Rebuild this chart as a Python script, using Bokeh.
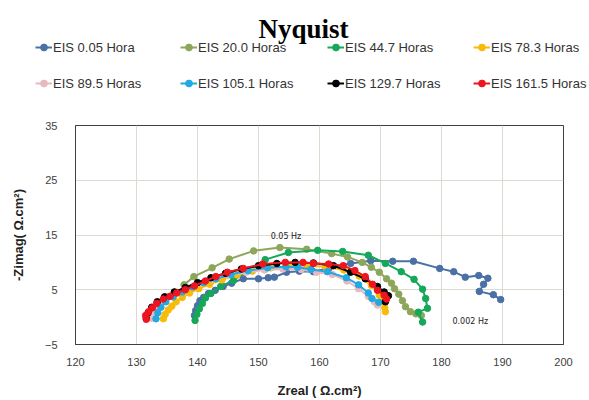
from bokeh.plotting import figure
from bokeh.models import (Legend, LegendItem, Label, FixedTicker, Range1d)
from bokeh.layouts import column
from bokeh.embed import file_html
from bokeh.resources import INLINE

# ---------------- data ----------------
names = ["EIS 0.05 Hora", "EIS 20.0 Horas", "EIS 44.7 Horas", "EIS 78.3 Horas",
         "EIS 89.5 Horas", "EIS 105.1 Horas", "EIS 129.7 Horas", "EIS 161.5 Horas"]
colors = ["#4A70A6", "#8DA65A", "#16A85A", "#F8BB0A",
          "#E9B8C0", "#22A9E1", "#000000", "#EE1520"]

x_0 = [139.5, 139.7, 140.0, 140.4, 141.0, 141.8, 142.9, 144.2, 145.6, 147.5, 150.0, 151.6,
       152.6, 154.6, 156.7, 159.0, 161.6, 165.1, 168.4, 172.0, 175.4, 179.7, 182.0, 183.9,
       186.1, 187.6, 186.9, 186.2, 188.5, 189.7]
y_0 = [0.3, 1.2, 2.1, 3.0, 3.6, 4.3, 4.9, 5.6, 6.2, 7.0, 7.0, 7.2,
       7.3, 8.2, 8.4, 8.3, 9.0, 9.8, 10.3, 10.2, 10.2, 8.9, 8.3, 7.3,
       7.6, 7.1, 6.0, 4.7, 4.1, 3.2]

x_20 = [137.8, 139.4, 142.4, 145.2, 149.2, 153.5, 157.9, 162.0, 164.6, 167.0, 168.5, 169.8,
        171.0, 171.8, 172.3, 173.0, 173.6, 174.1, 174.9, 175.8, 176.7]
y_20 = [5.9, 7.4, 9.0, 10.6, 12.1, 12.7, 12.4, 11.6, 11.0, 10.0, 9.1, 8.2,
        7.0, 6.2, 5.2, 4.2, 3.0, 1.9, 1.0, 0.6, 0.3]

x_44 = [139.6, 139.9, 140.3, 140.8, 141.3, 142.2, 143.8, 145.9, 148.2, 151.1, 154.9, 159.7,
        163.8, 168.0, 170.8, 173.4, 175.5, 176.9, 177.4, 177.7, 176.2, 176.9]
y_44 = [-0.6, 0.5, 1.5, 2.5, 3.5, 4.3, 5.6, 6.7, 8.4, 10.5, 11.8, 12.2,
        12.0, 11.3, 9.8, 8.3, 6.9, 5.1, 3.4, 1.6, 0.9, -0.9]

x_78 = [134.4, 134.7, 135.2, 135.8, 136.5, 137.5, 138.7, 140.2, 142.0, 144.0, 146.5, 149.0,
        152.0, 155.0, 158.0, 161.0, 164.0, 166.5, 168.5, 169.8, 170.3, 170.7, 170.8]
y_78 = [-0.3, 0.5, 1.3, 2.0, 2.8, 3.6, 4.4, 5.2, 6.0, 6.8, 7.7, 8.4,
        9.0, 9.3, 9.4, 9.2, 8.6, 7.5, 5.8, 4.0, 2.8, 1.7, 1.0]

x_89 = [132.5, 132.8, 133.3, 134.0, 135.0, 136.5, 138.3, 140.3, 142.5, 145.0, 148.0, 151.0,
        154.0, 157.0, 159.5, 162.1, 164.5, 166.4, 168.0, 169.0, 169.5]
y_89 = [-0.2, 0.8, 1.8, 2.8, 3.7, 4.6, 5.4, 6.2, 6.9, 7.6, 8.2, 8.6,
        8.8, 8.7, 8.2, 7.8, 6.6, 5.2, 3.8, 2.8, 2.2]

x_105 = [133.2, 133.5, 134.0, 134.8, 136.0, 137.5, 139.2, 141.0, 143.0, 145.5, 148.3, 151.5,
         154.5, 156.4, 158.6, 161.3, 164.4, 166.4, 168.0, 168.6, 169.7]
y_105 = [-0.3, 0.8, 1.8, 2.8, 3.7, 4.6, 5.5, 6.3, 7.0, 7.8, 8.5, 9.0,
         9.2, 9.1, 8.7, 8.3, 7.2, 5.9, 4.4, 3.4, 2.7]

x_129 = [131.6, 131.9, 132.5, 133.4, 134.6, 136.2, 138.0, 140.0, 142.2, 144.6, 147.2, 150.0,
         153.0, 156.0, 159.0, 162.3, 165.1, 167.5, 169.5, 170.6, 171.3, 170.8]
y_129 = [-0.2, 0.8, 1.8, 2.8, 3.7, 4.6, 5.4, 6.3, 7.2, 8.0, 8.8, 9.4,
         9.8, 10.0, 9.9, 9.4, 8.2, 7.0, 5.6, 4.6, 3.9, 2.8]

x_161 = [131.6, 131.5, 132.0, 132.6, 133.3, 134.4, 135.5, 136.6, 138.0, 139.5, 141.3, 143.0,
         144.9, 147.5, 150.7, 154.4, 157.3, 159.0, 161.5, 163.9, 165.8, 167.5, 168.7, 169.5,
         170.6, 171.0]
y_161 = [-0.4, 0.3, 1.0, 1.7, 2.5, 3.3, 3.8, 4.4, 5.0, 5.7, 6.6, 7.4,
         8.2, 8.9, 9.7, 10.0, 10.0, 9.8, 9.7, 9.4, 8.5, 7.4, 6.0, 4.9,
         4.0, 3.3]

xs = [x_0, x_20, x_44, x_78, x_89, x_105, x_129, x_161]
ys = [y_0, y_20, y_44, y_78, y_89, y_105, y_129, y_161]

x_ticks = [120, 130, 140, 150, 160, 170, 180, 190, 200]
y_ticks = [-5, 5, 15, 25, 35]

ann_text = ["0.05 Hz", "0.002 Hz"]
ann_x = [152.0, 181.8]
ann_y = [14.7, -0.8]

title_text = "Nyquist"

# ---------------- layout constants ----------------
W = 589
TOP_H = 110
MAIN_H = 290
FRAME_L = 75
FRAME_R = 563
LEG_COL_X = [35, 180, 327, 473]   # canvas x of each legend column

# ---------------- header (title + legend) ----------------
head = figure(width=W, height=TOP_H, output_backend="svg", toolbar_location=None,
              x_range=Range1d(0, W), y_range=Range1d(0, TOP_H),
              x_axis_type=None, y_axis_type=None,
              min_border=0, title=None)
head.grid.visible = False
head.outline_line_color = None
head.background_fill_color = "white"
head.border_fill_color = "white"

head.add_layout(Label(x=303, y=TOP_H - 28, text=title_text, text_font="Liberation Serif",
                      text_font_size="27px", text_font_style="bold",
                      text_color="#000000", text_align="center",
                      text_baseline="alphabetic"))

items = []
for name, col, xv, yv in zip(names, colors, xs, ys):
    r1 = head.line(xv, yv, line_color=col, line_width=2, visible=False)
    r2 = head.scatter(xv, yv, marker="circle", size=6, fill_color=col, line_color=col,
                      visible=False)
    items.append(LegendItem(label=name, renderers=[r1, r2]))

for c in range(4):
    lg = Legend(items=[items[c], items[c + 4]], location=(LEG_COL_X[c], 17),
                orientation="vertical",
                glyph_width=17, glyph_height=20, label_height=20,
                label_standoff=1, spacing=16,
                padding=0, margin=0, border_line_color=None,
                background_fill_alpha=0, inactive_fill_alpha=0,
                label_text_font="Liberation Sans", label_text_font_size="13px",
                label_text_color="#333333")
    head.add_layout(lg, "center")

# ---------------- main plot ----------------
p = figure(width=W, height=MAIN_H, output_backend="svg", toolbar_location=None,
           x_range=Range1d(120, 200), y_range=Range1d(-5, 35),
           min_border_left=FRAME_L, min_border_right=W - FRAME_R, min_border_top=15,
           min_border_bottom=56, title=None)

p.background_fill_color = "white"
p.border_fill_color = "white"
p.outline_line_color = "#3f3f3f"
p.outline_line_width = 1

p.xaxis.ticker = FixedTicker(ticks=x_ticks)
p.yaxis.ticker = FixedTicker(ticks=y_ticks)
for ax in (p.xaxis, p.yaxis):
    ax.major_tick_line_color = None
    ax.minor_tick_line_color = None
    ax.axis_line_color = "#3f3f3f"
    ax.major_label_text_font = "Liberation Sans"
    ax.major_label_text_font_size = "11px"
    ax.major_label_text_color = "#404040"
    ax.axis_label_text_font = "Liberation Sans"
    ax.axis_label_text_font_size = "13px"
    ax.axis_label_text_font_style = "bold"
    ax.axis_label_text_color = "#222222"
p.xaxis.axis_label = "Zreal ( \u03a9.cm\u00b2)"
p.yaxis.axis_label = "-Zimag( \u03a9.cm\u00b2)"
p.xaxis.major_label_standoff = 7
p.yaxis.major_label_standoff = 12
p.xaxis.axis_label_standoff = 14
p.yaxis.axis_label_standoff = 16

p.xgrid.grid_line_color = "#DDDBD0"
p.ygrid.grid_line_color = "#DDDBD0"

for name, col, xv, yv in zip(names, colors, xs, ys):
    p.line(xv, yv, line_color=col, line_width=2)
    p.scatter(xv, yv, marker="circle", size=6.5, fill_color=col, line_color=col)

for t, ax_, ay_ in zip(ann_text, ann_x, ann_y):
    p.add_layout(Label(x=ax_, y=ay_, text=t, text_font="DejaVu Sans",
                       text_font_size="8px", text_color="#222222",
                       text_baseline="middle", text_align="left"))

layout = column(column(head, spacing=0), column(p, spacing=0), spacing=0)
open("out.html", "w").write(file_html(layout, INLINE))
